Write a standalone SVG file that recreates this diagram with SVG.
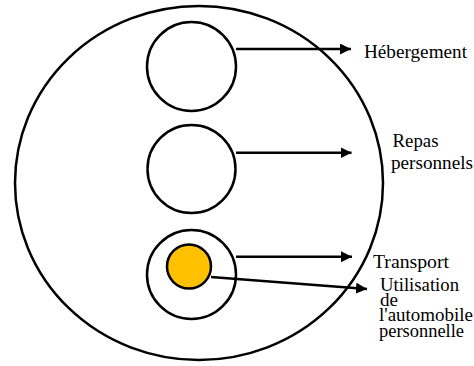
<svg xmlns="http://www.w3.org/2000/svg" width="474" height="366" viewBox="0 0 474 366">
<defs>
<marker id="ah" markerUnits="userSpaceOnUse" markerWidth="12" markerHeight="12" refX="11" refY="5.5" orient="auto">
<path d="M0,0 L11,5.5 L0,11 Z" fill="#000"/>
</marker>
</defs>
<rect width="474" height="366" fill="#fff"/>
<g id="outer"><ellipse cx="199" cy="183" rx="184" ry="177" fill="none" stroke="#000" stroke-width="2.5"/></g>
<g id="hebergement-node"><circle cx="191.5" cy="66.5" r="44.5" fill="none" stroke="#000" stroke-width="2.5"/></g>
<g id="repas-node"><circle cx="191.5" cy="169" r="44" fill="none" stroke="#000" stroke-width="2.5"/></g>
<g id="transport-node"><circle cx="191.5" cy="274.5" r="44.5" fill="none" stroke="#000" stroke-width="2.5"/></g>
<g id="auto-node"><circle cx="189" cy="266.5" r="22" fill="#ffc000" stroke="#000" stroke-width="2.5"/></g>
<g id="connectors" stroke="#000" stroke-width="2.5" fill="none" marker-end="url(#ah)">
<line x1="236" y1="49" x2="351" y2="49"/>
<line x1="236" y1="152.7" x2="351.5" y2="152.7"/>
<line x1="236" y1="256.7" x2="352" y2="256.7"/>
<line x1="211" y1="277" x2="367" y2="289"/>
</g>
<g id="labels" style="font-family:'Liberation Serif','Times New Roman',serif;font-size:19px;fill:#000">
<text x="364" y="58" textLength="103" lengthAdjust="spacingAndGlyphs">Hébergement</text>
<text x="392.5" y="146.5" textLength="46" lengthAdjust="spacingAndGlyphs">Repas</text>
<text x="391" y="168.5" textLength="82" lengthAdjust="spacingAndGlyphs">personnels</text>
<text x="373" y="267.5" textLength="76" lengthAdjust="spacingAndGlyphs">Transport</text>
<text x="380" y="290.5" style="font-size:18px" textLength="79" lengthAdjust="spacingAndGlyphs">Utilisation</text>
<text x="380" y="305.5" style="font-size:18px" textLength="18" lengthAdjust="spacingAndGlyphs">de</text>
<text x="379" y="321" style="font-size:18px" textLength="94" lengthAdjust="spacingAndGlyphs">l'automobile</text>
<text x="379" y="336.5" style="font-size:18px" textLength="85" lengthAdjust="spacingAndGlyphs">personnelle</text>
</g>
</svg>
